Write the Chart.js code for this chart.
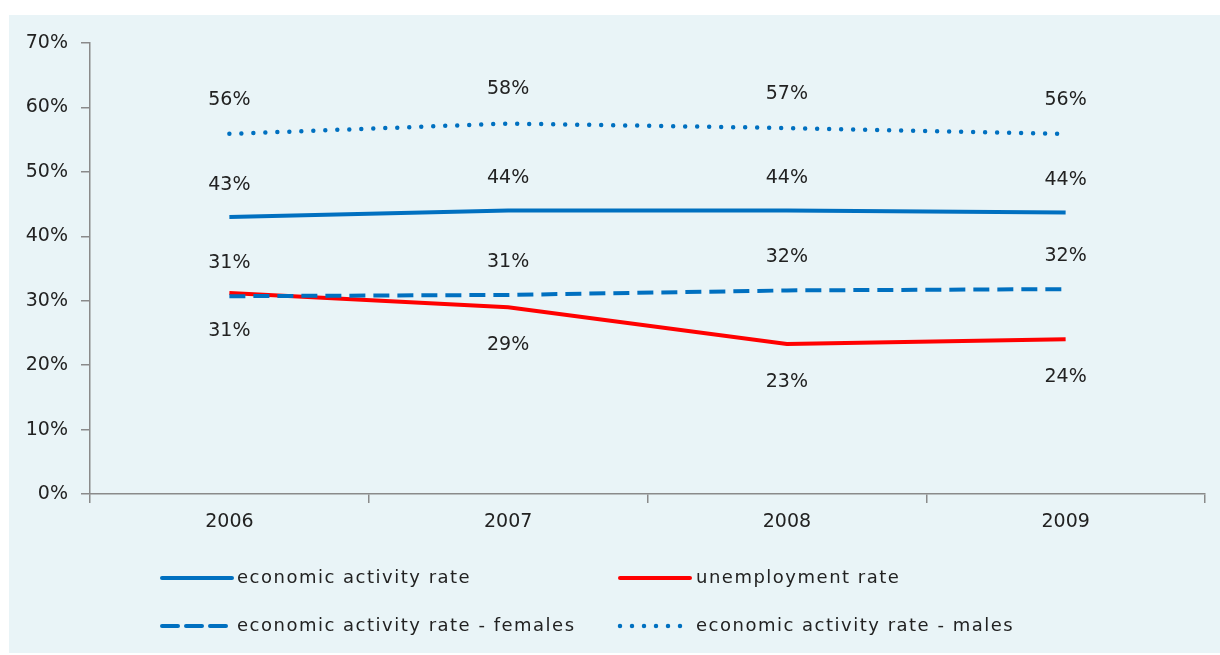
<!DOCTYPE html>
<html>
<head>
<meta charset="utf-8">
<script src="https://cdn.jsdelivr.net/npm/chart.js@4"></script>
<style>
  html, body { margin: 0; padding: 0; background: #ffffff; }
  #wrap { position: relative; width: 1220px; height: 655px; overflow: hidden; }
  #panel { position: absolute; left: 9px; top: 15px; right: 0; bottom: 2px; background: #e9f4f7; }
  canvas { position: absolute; left: 0; top: 0; }
</style>
</head>
<body>
<div id="wrap">
  <div id="panel"></div>
  <canvas id="c" width="1220" height="655"></canvas>
</div>
<script>
// ---- data ----
const years = ['2006', '2007', '2008', '2009'];
const econActivity = [43.0, 44.0, 44.0, 43.7];
const unemployment = [31.2, 29.0, 23.3, 24.0];
const econFemales = [30.7, 30.9, 31.6, 31.8];
const econMales = [55.9, 57.5, 56.8, 55.9];
const seriesNames = [
  'economic activity rate',
  'unemployment rate',
  'economic activity rate - females',
  'economic activity rate - males'
];
const yTickValues = [0, 10, 20, 30, 40, 50, 60, 70];

const BLUE = '#0070c0';
const RED = '#ff0000';
const AXIS = '#8a8a8a';
const TEXT = '#222222';
const FONT = '"DejaVu Sans", sans-serif';
const FSIZE = 19;

const datasets = [
  { label: seriesNames[0], data: econActivity, borderColor: BLUE, borderWidth: 4, borderDash: [], order: 3, labelOffset: -32 },
  { label: seriesNames[1], data: unemployment, borderColor: RED, borderWidth: 4, borderDash: [], order: 2, labelOffset: 38 },
  { label: seriesNames[2], data: econFemales, borderColor: BLUE, borderWidth: 4, borderDash: [16, 8], order: 1, labelOffset: -33 },
  { label: seriesNames[3], data: econMales, borderColor: BLUE, borderWidth: 4.5, borderDash: [0, 12], borderCapStyle: 'round', order: 0, labelOffset: -34 }
].map(d => Object.assign({ pointRadius: 0, pointHoverRadius: 0, fill: false, tension: 0, backgroundColor: d.borderColor }, d));

// data labels drawn at the points computed by the chart's scales
const valueLabels = {
  id: 'valueLabels',
  afterDatasetsDraw(chart) {
    const ctx = chart.ctx;
    ctx.save();
    ctx.font = FSIZE + 'px ' + FONT;
    ctx.fillStyle = TEXT;
    ctx.textAlign = 'center';
    ctx.textBaseline = 'middle';
    chart.data.datasets.forEach((ds, i) => {
      const meta = chart.getDatasetMeta(i);
      meta.data.forEach((pt, j) => {
        const txt = Math.round(ds.data[j]) + '%';
        ctx.fillText(txt, pt.x, pt.y + ds.labelOffset);
      });
    });
    ctx.restore();
  }
};

// legend drawn in two columns / two rows like the original
const customLegend = {
  id: 'customLegend',
  afterDraw(chart) {
    const ctx = chart.ctx;
    const cols = [160, 618];
    const rows = [578, 626];
    const lineLen = 72;
    ctx.save();
    chart.data.datasets.forEach((ds, i) => {
      const x = cols[i % 2];
      const y = rows[Math.floor(i / 2)];
      ctx.beginPath();
      ctx.strokeStyle = ds.borderColor;
      ctx.lineWidth = ds.borderWidth;
      ctx.lineCap = 'round';
      ctx.setLineDash(ds.borderDash);
      ctx.moveTo(x + 2, y);
      ctx.lineTo(x + lineLen, y);
      ctx.stroke();
      ctx.setLineDash([]);
      ctx.font = '18px ' + FONT;
      try { ctx.letterSpacing = '1.5px'; } catch (e) {}
      ctx.fillStyle = TEXT;
      ctx.textAlign = 'left';
      ctx.textBaseline = 'middle';
      ctx.fillText(ds.label, x + (i % 2 === 0 ? 77 : 78), y);
    });
    ctx.restore();
  }
};

new Chart(document.getElementById('c'), {
  type: 'line',
  data: { labels: years, datasets },
  options: {
    responsive: false,
    animation: false,
    devicePixelRatio: 1,
    layout: { padding: { top: 43, right: 15, bottom: 111, left: 0 } },
    plugins: {
      legend: { display: false },
      tooltip: { enabled: false }
    },
    scales: {
      x: {
        type: 'category',
        offset: true,
        grid: { display: true, drawOnChartArea: false, drawTicks: true, tickLength: 9, color: AXIS, lineWidth: 1.5, offset: true },
        border: { display: true, color: AXIS, width: 1.5 },
        ticks: { color: TEXT, font: { family: FONT, size: FSIZE }, padding: 8, maxRotation: 0 },
        afterFit(scale) { scale.height = 50; }
      },
      y: {
        min: 0,
        max: 70,
        afterBuildTicks(scale) { scale.ticks = yTickValues.map(v => ({ value: v })); },
        grid: { display: true, drawOnChartArea: false, drawTicks: true, tickLength: 9, color: AXIS, lineWidth: 1.5 },
        border: { display: true, color: AXIS, width: 1.5 },
        ticks: { color: TEXT, font: { family: FONT, size: FSIZE }, padding: 13, callback: v => v + '%' },
        afterFit(scale) { scale.width = 90; }
      }
    }
  },
  plugins: [valueLabels, customLegend]
});
</script>
</body>
</html>
